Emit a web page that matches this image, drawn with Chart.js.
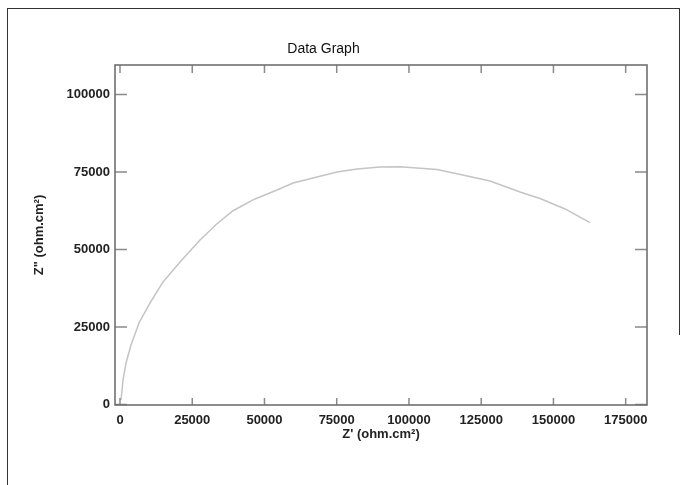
<!DOCTYPE html>
<html>
<head>
<meta charset="utf-8">
<script src="https://cdn.jsdelivr.net/npm/chart.js@4.4.1/dist/chart.umd.min.js"></script>
<style>
  html, body { margin: 0; padding: 0; background: #fff; }
  #wrap { position: relative; width: 684px; height: 485px; overflow: hidden; }
  #frame { position: absolute; left: 7px; top: 8px; width: 672px; height: 600px;
           border-left: 1px solid #333; border-top: 1px solid #333; }
  #rline { position: absolute; left: 679px; top: 8px; width: 1px; height: 327px; background: #333; }
  canvas { position: absolute; left: 0; top: 0; }
</style>
</head>
<body>
<div id="wrap">
  <div id="frame"></div>
  <div id="rline"></div>
  <canvas id="c" width="684" height="485"></canvas>
</div>
<script>
// Data (Nyquist plot)
const zReal = [350, 1040, 2080, 3810, 6580, 10380, 14880, 20770, 27690, 33570, 39110, 46720, 54340, 59880, 66800, 75100, 82030, 89990, 96910, 109710, 119400, 128060, 138440, 145360, 154020, 162670];
const zImag = [1450, 7900, 13390, 19200, 26290, 32740, 39520, 45970, 53070, 58300, 62500, 66300, 69200, 71460, 73070, 75000, 75970, 76620, 76680, 75810, 73880, 72100, 68550, 66460, 63070, 58650];
const xTicks = [0, 25000, 50000, 75000, 100000, 125000, 150000, 175000];
const yTicks = [0, 25000, 50000, 75000, 100000];
const chartTitle = 'Data Graph';
const xTitle = "Z' (ohm.cm\u00B2)";
const yTitle = 'Z" (ohm.cm\u00B2)';

const points = zReal.map((x, i) => ({ x: x, y: zImag[i] }));
const axisColor = '#707070';
const tickFont = { family: 'Liberation Sans, Arial, sans-serif', size: 13, weight: 'bold' };

const frameTicks = {
  id: 'frameTicks',
  afterDraw(chart) {
    const { ctx, chartArea: a, scales } = chart;
    ctx.save();
    ctx.strokeStyle = '#8a8a8a';
    ctx.lineWidth = 1.5;
    ctx.beginPath();
    scales.x.ticks.forEach(t => {
      const px = scales.x.getPixelForValue(t.value);
      ctx.moveTo(px, a.bottom); ctx.lineTo(px, a.bottom - 7);
      ctx.moveTo(px, a.top); ctx.lineTo(px, a.top + 8);
    });
    scales.y.ticks.forEach(t => {
      const py = scales.y.getPixelForValue(t.value);
      ctx.moveTo(a.left, py); ctx.lineTo(a.left + 12, py);
      ctx.moveTo(a.right, py); ctx.lineTo(a.right - 12, py);
    });
    ctx.stroke();
    ctx.strokeStyle = axisColor;
    ctx.lineWidth = 1.6;
    ctx.strokeRect(a.left, a.top, a.right - a.left, a.bottom - a.top);
    ctx.restore();
  }
};

new Chart(document.getElementById('c'), {
  type: 'scatter',
  data: {
    datasets: [{
      data: points,
      showLine: true,
      borderColor: '#c4c4c4',
      borderWidth: 1.5,
      pointRadius: 0,
      tension: 0,
      fill: false
    }]
  },
  options: {
    responsive: false,
    animation: false,
    events: [],
    layout: { padding: { left: 0, right: 37, top: 0, bottom: 0 } },
    plugins: {
      legend: { display: false },
      tooltip: { enabled: false },
      title: {
        display: true,
        text: chartTitle,
        color: '#111',
        font: { family: 'Liberation Sans, Arial, sans-serif', size: 14, weight: 'normal' },
        padding: { top: 40.6, bottom: 7.6 }
      }
    },
    scales: {
      x: {
        type: 'linear',
        min: -1730,
        max: 182380,
        afterBuildTicks: s => { s.ticks = xTicks.map(v => ({ value: v })); },
        afterFit: s => { s.height = 80; },
        grid: { display: false, drawTicks: false },
        border: { display: false },
        ticks: {
          color: '#222',
          font: tickFont,
          padding: 8,
          maxRotation: 0,
          autoSkip: false,
          callback: v => String(v)
        },
        title: {
          display: true,
          text: xTitle,
          color: '#222',
          font: tickFont,
          padding: { top: 0, bottom: 43 }
        }
      },
      y: {
        type: 'linear',
        min: -160,
        max: 109500,
        afterBuildTicks: s => { s.ticks = yTicks.map(v => ({ value: v })); },
        afterFit: s => { s.width = 115; },
        grid: { display: false, drawTicks: false },
        border: { display: false },
        ticks: {
          color: '#222',
          font: tickFont,
          padding: 5,
          autoSkip: false,
          callback: v => String(v)
        },
        title: {
          display: true,
          text: yTitle,
          color: '#222',
          font: tickFont,
          padding: { top: 32, bottom: 0 }
        }
      }
    }
  },
  plugins: [frameTicks]
});
</script>
</body>
</html>
